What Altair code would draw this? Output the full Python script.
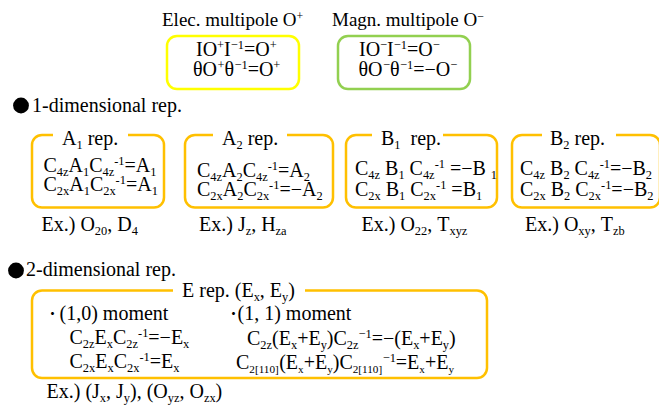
import altair as alt
import pandas as pd

# ---------------- content (text with _{sub} and ^{sup} markup) ----------------
head_titles = ["Elec. multipole O^{+}", "Magn. multipole O^{−}"]
elec_lines = ["IO^{+}I^{−1}=O^{+}", "θO^{+}θ^{−1}=O^{+}"]
magn_lines = ["IO^{−}I^{−1}=O^{−}", "θO^{−}θ^{−1}=−O^{−}"]

section_titles = ["1-dimensional rep.", "2-dimensional rep."]

rep1_titles = ["A_{1} rep.", "A_{2} rep.", "B_{1}  rep.", "B_{2} rep."]
rep1_lines = [
    ["C_{4z}A_{1}C_{4z}^{-1}=A_{1}", "C_{2x}A_{1}C_{2x}^{-1}=A_{1}"],
    ["C_{4z}A_{2}C_{4z}^{-1}=A_{2}", "C_{2x}A_{2}C_{2x}^{-1}=−A_{2}"],
    ["C_{4z} B_{1} C_{4z}^{-1} =−B _{1}", "C_{2x} B_{1} C_{2x}^{-1} =B_{1}"],
    ["C_{4z} B_{2} C_{4z}^{-1}=−B_{2}", "C_{2x} B_{2} C_{2x}^{-1}=−B_{2}"],
]
rep1_examples = ["Ex.) O_{20}, D_{4}", "Ex.) J_{z}, H_{za}",
                 "Ex.) O_{22}, T_{xyz}", "Ex.) O_{xy}, T_{zb}"]

e_title = "E rep. (E_{x}, E_{y})"
e_moments = ["(1,0) moment", "(1, 1) moment"]
e_lines_10 = ["C_{2z}E_{x}C_{2z}^{-1}=−E_{x}", "C_{2x}E_{x}C_{2x}^{-1}=E_{x}"]
e_lines_11 = ["C_{2z}(E_{x}+E_{y})C_{2z}^{−1}=−(E_{x}+E_{y})",
              "C_{2[110]}(E_{x}+E_{y})C_{2[110]}^{−1}=E_{x}+E_{y}"]
e_example = "Ex.) (J_{x}, J_{y}), (O_{yz}, O_{zx})"

# ---------------- layout (reference pixel coordinates) ----------------
FS = 20
head_pos = [(162, 26), (332, 26)]
elec_pos = [(196, 56), (193, 76)]
magn_pos = [(359, 56), (358.5, 76)]
top_boxes = [(167, 299, 36, 89, "#ffff00"), (338, 470, 36, 89, "#92d050")]

section_pos = [(32, 112), (26, 276)]
bullet_pos = [(21, 105.5), (16, 270.5)]

rep1_boxes = [(32, 164), (185, 333), (346, 497), (512, 660)]
rep1_box_y = (135, 207.5)
rep1_title_pos = [(62, 145), (222, 145), (381, 145), (550, 145)]
rep1_gaps = [(53, 128), (213, 287), (372, 443), (542, 616)]
rep1_line_pos = [[(43.5, 172), (43.5, 191)], [(197, 176.5), (197, 196)],
                 [(355, 175), (355, 195.5)], [(520, 175), (520, 195.5)]]
rep1_ex_pos = [(41.5, 231), (199, 231), (361.5, 231), (525, 231)]

e_box = (32, 487, 290.5, 378)
e_title_pos = (182, 297)
e_gap = (173, 305)
e_dot_pos = [(48, 319.5), (229, 319.5)]
e_moment_pos = [(59.5, 319.5), (237.5, 319.5)]
e_10_pos = [(69.5, 344), (69.5, 368)]
e_11_pos = [(247, 345), (236, 368.5)]
e_11_subscale = [0.62, 0.56]
e_ex_pos = (46.5, 398)

ORANGE = "#ffc000"

# Times / Liberation Serif advance widths (em)
W = {" ": .25, "(": .333, ")": .333, "+": .564, ",": .25, "-": .333, ".": .25,
     "=": .564, "[": .333, "]": .333, "−": .564, "θ": .5,
     "A": .722, "B": .667, "C": .667, "D": .722, "E": .611, "H": .722, "I": .333,
     "J": .389, "M": .889, "O": .722, "T": .611,
     "a": .444, "b": .5, "c": .444, "d": .5, "e": .444, "g": .5, "i": .278,
     "l": .278, "m": .778, "n": .5, "o": .5, "p": .5, "r": .333, "s": .389,
     "t": .278, "u": .5, "x": .5, "y": .5, "z": .444}


def wid(s, fs):
    return sum(W.get(ch, .5) for ch in s) * fs


def parse(s):
    runs, buf, i = [], "", 0
    while i < len(s):
        if s[i] in "_^" and i + 1 < len(s) and s[i + 1] == "{":
            if buf:
                runs.append(("n", buf))
                buf = ""
            j = s.index("}", i)
            runs.append(("sub" if s[i] == "_" else "sup", s[i + 2:j]))
            i = j + 1
        else:
            buf += s[i]
            i += 1
    if buf:
        runs.append(("n", buf))
    return runs


rows = []


def put(markup, x, y, fs=FS, subscale=0.62):
    cur = x
    for kind, txt in parse(markup):
        if kind == "n":
            size, dy = fs, 0
        elif kind == "sub":
            size, dy = fs * subscale, fs * 0.2
        else:
            size, dy = fs * 0.62, -fs * 0.33
        parts = txt.split(" ")
        for k, p in enumerate(parts):
            if p:
                rows.append({"x": cur, "y": y + dy, "t": p, "fs": size})
                cur += wid(p, size)
            if k < len(parts) - 1:
                cur += wid(" ", size)
    return cur


for t, (x, y) in zip(head_titles, head_pos):
    put(t, x, y, 19)
for t, (x, y) in zip(elec_lines, elec_pos):
    put(t, x, y)
for t, (x, y) in zip(magn_lines, magn_pos):
    put(t, x, y)
for t, (x, y) in zip(section_titles, section_pos):
    put(t, x, y)
for t, (x, y) in zip(rep1_titles, rep1_title_pos):
    put(t, x, y)
for lines, poss in zip(rep1_lines, rep1_line_pos):
    for t, (x, y) in zip(lines, poss):
        put(t, x, y)
for t, (x, y) in zip(rep1_examples, rep1_ex_pos):
    put(t, x, y)
put(e_title, *e_title_pos)
for t, (x, y) in zip(e_moments, e_moment_pos):
    put(t, x, y)
for t, (x, y) in zip(e_lines_10, e_10_pos):
    put(t, x, y)
for t, (x, y), sc in zip(e_lines_11, e_11_pos, e_11_subscale):
    put(t, x, y, subscale=sc)
put(e_example, *e_ex_pos)

text_df = pd.DataFrame(rows)

box_rows = [{"x": a, "x2": b, "y": c, "y2": d, "c": col} for a, b, c, d, col in top_boxes]
for a, b in rep1_boxes:
    box_rows.append({"x": a, "x2": b, "y": rep1_box_y[0], "y2": rep1_box_y[1], "c": ORANGE})
box_rows.append({"x": e_box[0], "x2": e_box[1], "y": e_box[2], "y2": e_box[3], "c": ORANGE})
box_df = pd.DataFrame(box_rows)

gap_rows = [{"x": a, "x2": b, "y": rep1_box_y[0] - 4, "y2": rep1_box_y[0] + 4} for a, b in rep1_gaps]
gap_rows.append({"x": e_gap[0], "x2": e_gap[1], "y": e_box[2] - 4, "y2": e_box[2] + 4})
gap_df = pd.DataFrame(gap_rows)

bullet_df = pd.DataFrame([{"x": x, "y": y} for x, y in bullet_pos])
dot_df = pd.DataFrame([{"x": x, "y": y, "t": "･"} for x, y in e_dot_pos])

xs = alt.Scale(domain=[8, 659], nice=False, zero=False)
ys = alt.Scale(domain=[8, 408], reverse=True, nice=False, zero=False)

boxes = alt.Chart(box_df).mark_rect(fillOpacity=0, strokeWidth=2.5, cornerRadius=10).encode(
    x=alt.X("x:Q", scale=xs, axis=None), x2="x2:Q",
    y=alt.Y("y:Q", scale=ys, axis=None), y2="y2:Q",
    stroke=alt.Stroke("c:N", scale=None, legend=None),
)
gaps = alt.Chart(gap_df).mark_rect(color="white").encode(
    x=alt.X("x:Q", scale=xs, axis=None), x2="x2:Q",
    y=alt.Y("y:Q", scale=ys, axis=None), y2="y2:Q",
)
texts = alt.Chart(text_df).mark_text(
    align="left", baseline="alphabetic", font="Liberation Serif", color="black"
).encode(
    x=alt.X("x:Q", scale=xs, axis=None),
    y=alt.Y("y:Q", scale=ys, axis=None),
    text="t:N",
    size=alt.Size("fs:Q", scale=None, legend=None),
)
bullets = alt.Chart(bullet_df).mark_point(filled=True, shape="circle", size=250, color="black", opacity=1).encode(
    x=alt.X("x:Q", scale=xs, axis=None),
    y=alt.Y("y:Q", scale=ys, axis=None),
)
dots = alt.Chart(dot_df).mark_text(
    align="left", baseline="alphabetic", font="Noto Sans CJK JP", fontSize=18, color="black"
).encode(
    x=alt.X("x:Q", scale=xs, axis=None),
    y=alt.Y("y:Q", scale=ys, axis=None),
    text="t:N",
)

chart = alt.layer(boxes, gaps, texts, bullets, dots).properties(
    width=651, height=400, padding=0, autosize="none", background="white"
).configure_view(stroke="transparent")

chart.save("out.html", embed_options={"renderer": "svg", "actions": False})
